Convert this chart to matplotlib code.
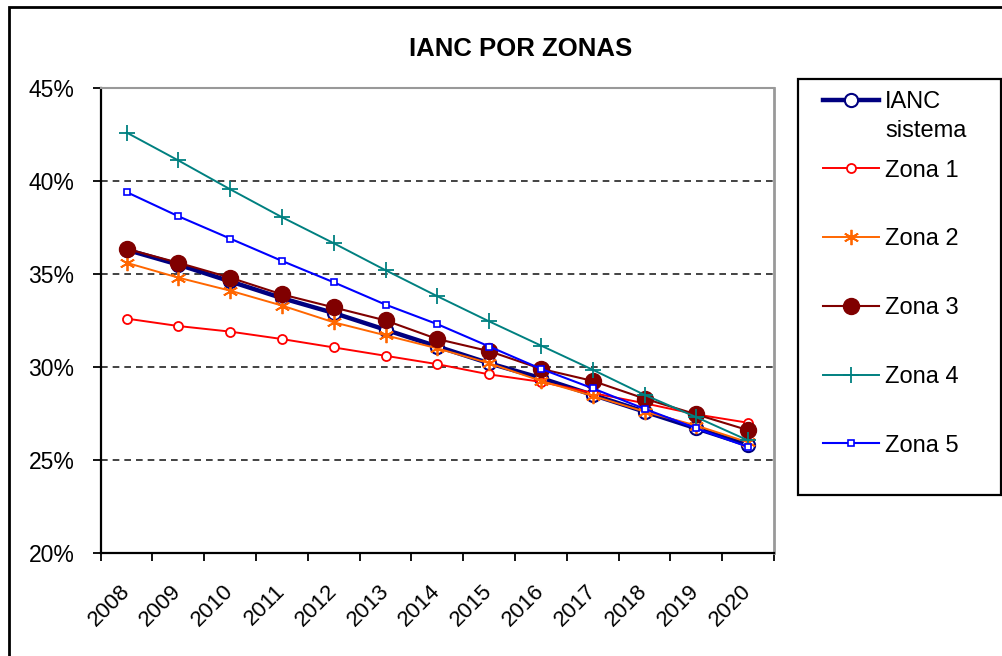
import numpy as np
import matplotlib
matplotlib.use("Agg")
import matplotlib.pyplot as plt
from matplotlib.patches import Rectangle
from matplotlib.ticker import FixedLocator, FuncFormatter

plt.rcParams['font.family'] = ['Liberation Sans', 'DejaVu Sans']

years = ['2008', '2009', '2010', '2011', '2012', '2013', '2014',
         '2015', '2016', '2017', '2018', '2019', '2020']

ianc = [36.3, 35.5, 34.6, 33.7, 32.9, 32.0, 31.1, 30.2, 29.4, 28.5, 27.6, 26.7, 25.8]
zona1 = [32.6, 32.2, 31.9, 31.5, 31.05, 30.6, 30.15, 29.6, 29.2, 28.6, 28.05, 27.45, 27.0]
zona2 = [35.6, 34.8, 34.1, 33.3, 32.4, 31.7, 31.0, 30.2, 29.25, 28.45, 27.6, 26.85, 25.95]
zona3 = [36.35, 35.6, 34.8, 33.9, 33.2, 32.5, 31.5, 30.85, 29.9, 29.25, 28.3, 27.45, 26.6]
zona4 = [42.6, 41.1, 39.55, 38.05, 36.65, 35.2, 33.8, 32.45, 31.15, 29.85, 28.5, 27.3, 26.05]
zona5 = [39.4, 38.1, 36.9, 35.7, 34.55, 33.35, 32.3, 31.1, 29.9, 28.85, 27.75, 26.7, 25.7]

x = np.arange(len(years))

fig = plt.figure(figsize=(10.02, 6.56), dpi=100)
ax = fig.add_axes([0.1005, 0.157, 0.672, 0.709])

ax.plot(x, ianc, color='#000080', lw=3.2, marker='o', ms=9.5,
        mfc='white', mec='#000080', mew=1.5, label='IANC')
ax.plot(x, zona1, color='#FF0000', lw=1.4, marker='o', ms=6.5,
        mfc='white', mec='#FF0000', mew=1.3, label='Zona 1')
ax.plot(x, zona2, color='#FF6600', lw=1.4, marker=(6, 2, 0), ms=11,
        mec='#FF6600', mew=1.3, label='Zona 2')
ax.plot(x, zona3, color='#800000', lw=1.5, marker='o', ms=11.5,
        mfc='#800000', mec='#800000', label='Zona 3')
ax.plot(x, zona4, color='#008080', lw=1.4, marker='+', ms=11,
        mew=1.3, label='Zona 4')
ax.plot(x, zona5, color='#0000FF', lw=1.5, marker='s', ms=4.5,
        mfc='white', mec='#0000FF', mew=1.2, label='Zona 5')

ax.set_xlim(-0.5, len(years) - 0.5)
ax.set_ylim(20, 45)
ax.set_yticks([20, 25, 30, 35, 40, 45])
ax.yaxis.set_major_formatter(FuncFormatter(lambda v, p: '%d%%' % v))
for v in [25, 30, 35, 40]:
    ax.axhline(v, color='#222222', lw=1.2, ls=(0, (4, 3)), zorder=0)

ax.set_xticks(x)
ax.set_xticklabels(years, rotation=45, ha='right', va='center', rotation_mode='anchor')
ax.xaxis.set_minor_locator(FixedLocator(np.arange(-0.5, len(years), 1)))
ax.tick_params(axis='x', which='major', length=0, labelsize=16, pad=25)
ax.tick_params(axis='x', which='minor', length=6, width=1.3, direction='out')
ax.tick_params(axis='y', length=6, width=1.3, direction='out', labelsize=16.5, pad=13)

ax.spines['left'].set_linewidth(1.6)
ax.spines['bottom'].set_linewidth(1.6)
ax.spines['right'].set_color('#999999')
ax.spines['right'].set_linewidth(2)
ax.spines['top'].set_color('#999999')
ax.spines['top'].set_linewidth(1.5)
ax.spines['top'].set_linestyle((0, (3, 1)))

fig.text(0.52, 0.925, 'IANC POR ZONAS', ha='center', va='center',
         fontsize=18.5, fontweight='bold')

leg = fig.legend(loc='upper left', bbox_to_anchor=(0.8214, 0.8614),
                 frameon=False, fontsize=17, handlelength=2.35,
                 handletextpad=0.27, labelspacing=1.98, borderpad=0,
                 borderaxespad=0)

fig.canvas.draw()
tb = leg.get_texts()[0].get_window_extent()
tx, ty = fig.transFigure.inverted().transform((tb.x0, tb.y1 - 29))
fig.text(tx, ty, 'sistema', ha='left', va='top', fontsize=17)

fig.patches.append(Rectangle((0.7964, 0.2455), 0.2026, 0.634, transform=fig.transFigure,
                             fill=False, edgecolor='black', lw=1.6))
fig.patches.append(Rectangle((0.009, -0.01), 1.2, 1.0, transform=fig.transFigure,
                             fill=False, edgecolor='black', lw=2))

fig.savefig('out.png', dpi=100)
